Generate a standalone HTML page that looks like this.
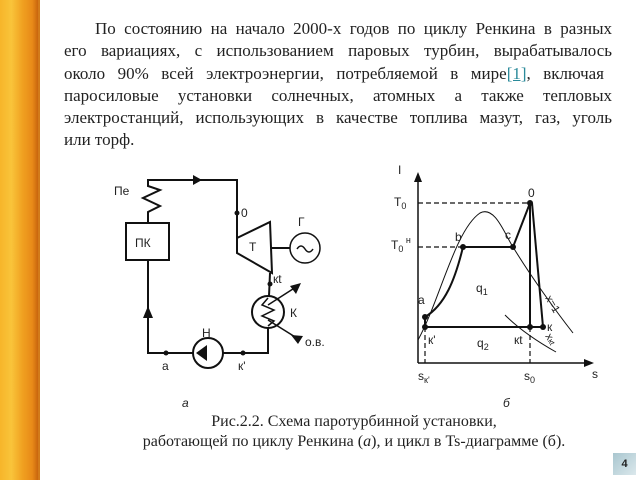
<!DOCTYPE html>
<html><head><meta charset="utf-8"><style>
body{margin:0;width:640px;height:480px;overflow:hidden;background:#fff;position:relative;font-family:"Liberation Serif",serif;}
.stripe{position:absolute;left:0;top:0;width:38px;height:480px;background:linear-gradient(90deg,#f7b52a 0%,#f9c43a 30%,#f0a020 60%,#e88a18 85%,#c8650e 100%);}
.edge{position:absolute;left:38px;top:0;width:2px;height:480px;background:#d27a1a;}
.txt{position:absolute;left:64px;top:18px;width:548px;font-size:17px;line-height:22.3px;color:#222;}
.txt div{text-align:justify;text-align-last:justify;white-space:nowrap;}
.txt div.l{text-align-last:left;}
.txt a{color:#2a8a9a;text-decoration:underline;}
.badge{position:absolute;left:613px;top:453px;width:23px;height:22px;background:linear-gradient(135deg,#a9c6cf,#dbe8ec);font:bold 11px "Liberation Sans",sans-serif;color:#222;text-align:center;line-height:22px;}
</style></head><body>
<div class="stripe"></div><div class="edge"></div>
<div class="txt">
<div style="padding-left:31px;white-space:normal">По состоянию на начало 2000-х годов по циклу Ренкина в разных</div>
<div style="white-space:normal">его вариациях, с использованием паровых турбин, вырабатывалось</div>
<div style="white-space:normal;width:540px">около 90% всей электроэнергии, потребляемой в мире<a>[1]</a>, включая</div>
<div style="white-space:normal">паросиловые установки солнечных, атомных а также тепловых</div>
<div style="white-space:normal">электростанций, использующих в качестве топлива мазут, газ, уголь</div>
<div class="l">или торф.</div>
</div>
<svg width="640" height="480" style="position:absolute;left:0;top:0" font-family="Liberation Sans, sans-serif" font-size="12">
<g stroke="#111" stroke-width="2" fill="none">
<polyline points="148,223 148,212 160,206 143,198 160,190 148,186 148,180 237,180 237,253"/>
<rect x="126" y="223" width="43" height="37"/>
<polyline points="148,260 148,353 193,353"/>
<polyline points="223,353 268,353 268,328"/>
<circle cx="208" cy="353" r="15"/>
<polygon points="237,238 270,222 272,273 237,253" fill="#fff"/>
<line x1="272" y1="248" x2="290" y2="248"/>
<circle cx="305" cy="248" r="15" stroke-width="1.5"/>
<path d="M297,249 q4,-6 8,0 q4,6 8,0" stroke-width="1.5"/>
<line x1="270" y1="273" x2="269" y2="296"/>
<circle cx="268" cy="312" r="16"/>
<polyline points="268,298 262,305 274,310 262,316 274,321 268,326" stroke-width="1.5"/>
<line x1="268" y1="305" x2="296" y2="287" stroke-width="1.5"/>
<line x1="268" y1="320" x2="300" y2="340" stroke-width="1.5"/>
</g>
<g fill="#111">
<polygon points="193,175 193,185 202,180"/>
<polygon points="148,306 143,318 153,318"/>
<polygon points="196,353 207,345 207,361"/>
<polygon points="301,283 290,286 296,294"/>
<polygon points="291,335 298,344 303,336"/>
<circle cx="237" cy="213" r="2.5"/><circle cx="270" cy="284" r="2.5"/>
<circle cx="166" cy="353" r="2.5"/><circle cx="243" cy="353" r="2.5"/>
</g>
<g fill="#222">
<text x="114" y="195">Пе</text><text x="135" y="247">ПК</text>
<text x="241" y="217">0</text><text x="249" y="251">Т</text>
<text x="298" y="226">Г</text><text x="273" y="283">кt</text>
<text x="290" y="317">К</text><text x="305" y="346">о.в.</text>
<text x="202" y="337">Н</text><text x="162" y="370">а</text><text x="238" y="370">к'</text>
<text x="182" y="407" font-style="italic">а</text><text x="503" y="407" font-style="italic">б</text>
</g>
<g stroke="#111" fill="none">
<line x1="418" y1="178" x2="418" y2="363" stroke-width="1.5"/>
<line x1="418" y1="363" x2="588" y2="363" stroke-width="1.5"/>
<g stroke-dasharray="5,3" stroke-width="1.2">
<line x1="418" y1="203" x2="530" y2="203"/><line x1="418" y1="247" x2="463" y2="247"/>
<line x1="425" y1="327" x2="425" y2="363"/><line x1="530" y1="327" x2="530" y2="363"/>
</g>
<path d="M418,340 C440,300 455,230 480,213 C495,205 505,235 513,247 C530,275 555,310 573,333" stroke-width="1"/>
<path d="M505,315 C520,330 540,343 556,352" stroke-width="1"/>
<path d="M425,317 C445,305 455,280 463,247" stroke-width="2"/>
<polyline points="463,247 513,247 530,203 530,327" stroke-width="2"/>
<line x1="532" y1="203" x2="543" y2="327" stroke-width="2"/>
<line x1="425" y1="327" x2="543" y2="327" stroke-width="2"/>
<line x1="425" y1="317" x2="425" y2="327" stroke-width="2"/>
</g>
<g fill="#111">
<polygon points="418,172 414,182 422,182"/><polygon points="594,363 584,359 584,367"/>
<circle cx="530" cy="203" r="3"/><circle cx="463" cy="247" r="3"/><circle cx="513" cy="247" r="3"/>
<circle cx="425" cy="317" r="3"/><circle cx="425" cy="327" r="3"/><circle cx="530" cy="327" r="3"/><circle cx="543" cy="327" r="3"/>
</g>
<g fill="#222">
<text x="398" y="174">I</text>
<text x="394" y="206">T<tspan font-size="9" dy="3">0</tspan></text>
<text x="391" y="249">T<tspan font-size="9" dy="3">0</tspan><tspan font-size="9" dy="-9"> н</tspan></text>
<text x="528" y="197">0</text><text x="455" y="241">b</text><text x="505" y="239">c</text>
<text x="418" y="304">a</text><text x="428" y="344">к'</text><text x="514" y="344">кt</text><text x="547" y="331">к</text>
<text x="476" y="292">q<tspan font-size="9" dy="3">1</tspan></text>
<text x="477" y="347">q<tspan font-size="9" dy="3">2</tspan></text>
<text x="418" y="380">s<tspan font-size="9" dy="3">к'</tspan></text>
<text x="524" y="380">s<tspan font-size="9" dy="3">0</tspan></text>
<text x="592" y="378">s</text>
<text x="545" y="298" transform="rotate(60 545 298)" font-size="11">x=1</text>
<text x="545" y="336" transform="rotate(60 545 336)" font-size="11">x<tspan font-size="8">кt</tspan></text>
</g>
<g font-family="Liberation Serif, serif" font-size="16" fill="#222" text-anchor="middle">
<text x="354" y="426">Рис.2.2. Схема паротурбинной установки,</text>
<text x="354" y="446">работающей по циклу Ренкина (<tspan font-style="italic">а</tspan>), и цикл в Ts-диаграмме (б).</text>
</g>
</svg>
<div class="badge">4</div>
</body></html>
